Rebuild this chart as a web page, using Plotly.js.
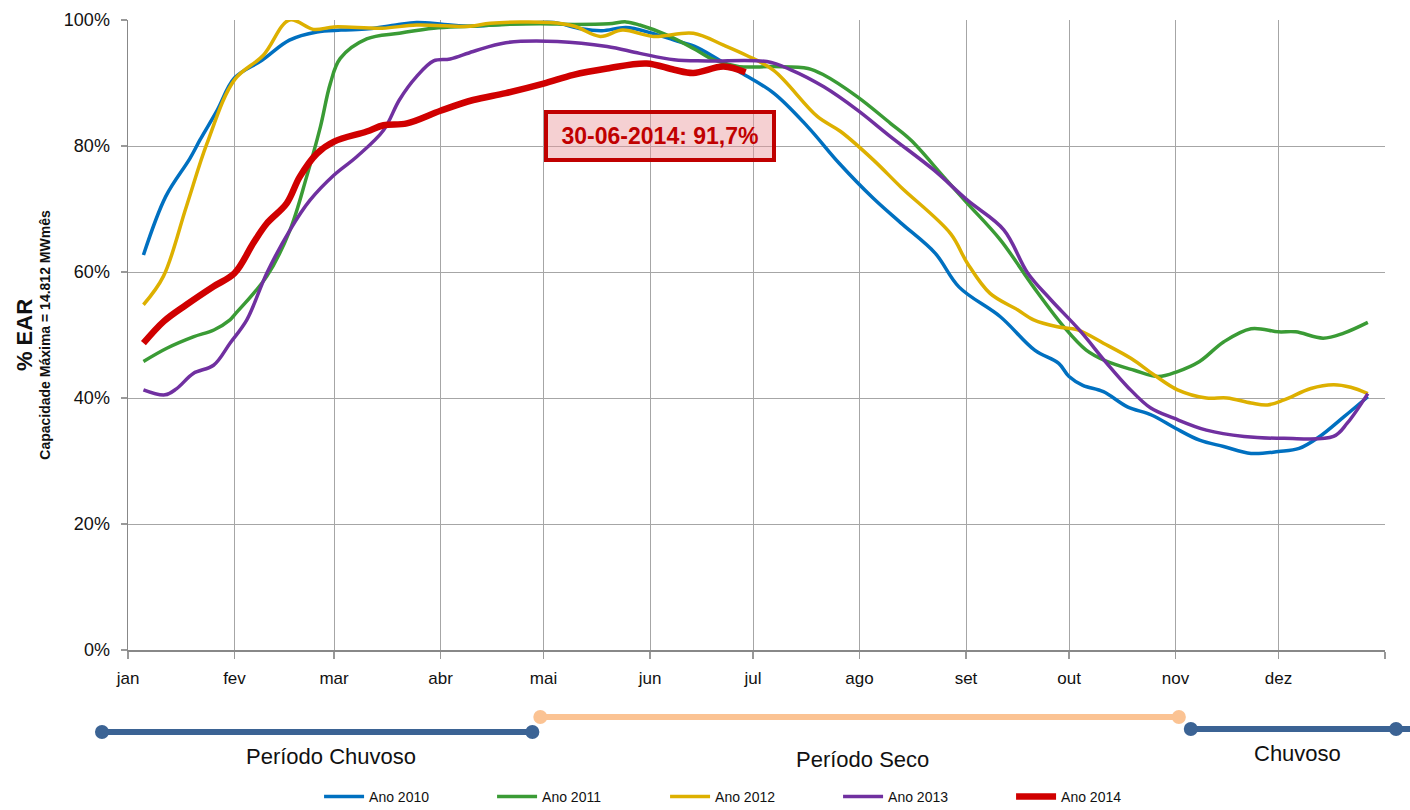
<!DOCTYPE html>
<html>
<head>
<meta charset="utf-8">
<script src="https://cdn.plot.ly/plotly-3.0.1.min.js"></script>
<style>html,body{margin:0;padding:0;background:#fff}#chart{width:1410px;height:810px}</style>
</head>
<body>
<div id="chart"></div>
<script>
// Day-of-year (leap year basis, 0 = 1 Jan) and % EAR values
const monthTickDays = [0, 31, 60, 91, 121, 152, 182, 213, 244, 274, 305, 335, 366];
const monthTickText = ['jan', 'fev', 'mar', 'abr', 'mai', 'jun', 'jul', 'ago', 'set', 'out', 'nov', 'dez', ''];
const yTickVals = [0, 20, 40, 60, 80, 100];
const yTickText = ['0%', '20%', '40%', '60%', '80%', '100%'];

const days2010 = [4.5, 11, 18, 21, 26, 31, 39, 47, 55, 62, 70, 78, 84, 92, 100, 108, 116, 124, 132, 138, 145, 152, 159, 165, 172, 178, 188, 198, 207, 217, 225, 235, 242, 254, 264, 271, 274, 278, 284, 291, 298, 305, 312, 319, 327, 335, 341, 347, 354, 361];
const ear2010 = [62.7, 72, 78, 81, 85.7, 90.8, 93.6, 96.8, 98.1, 98.4, 98.6, 99.2, 99.6, 99.3, 99, 99.3, 99.5, 99.6, 98.6, 98.3, 98.8, 98, 96.8, 95.8, 93.7, 91.8, 88.4, 83, 77.3, 71.7, 67.8, 63, 57.6, 52.9, 47.6, 45.5, 43.4, 42, 41, 38.6, 37.3, 35.2, 33.3, 32.3, 31.2, 31.5, 32, 33.9, 37, 40.2];

const days2011 = [4.5, 11.3, 19, 25, 29.7, 31, 40.4, 47.2, 52, 56, 58.9, 61.8, 69.5, 79, 89, 99.6, 110, 120, 130, 140, 145, 149, 157, 164.6, 170.5, 178, 188, 198, 202.5, 212.4, 222, 228, 237.5, 244.4, 254, 263.7, 272.5, 279, 285, 293, 300, 305.6, 312, 319, 327, 335, 340, 348, 354, 361];
const ear2011 = [45.8, 47.9, 49.7, 50.8, 52.4, 53.2, 59.3, 66.7, 75.1, 83, 89.9, 93.9, 97, 97.9, 98.7, 99, 99.3, 99.4, 99.3, 99.4, 99.7, 99.2, 97.6, 95.5, 93.7, 92.6, 92.6, 92.3, 91.3, 87.8, 83.6, 80.9, 75.1, 70.9, 65.1, 57.6, 51.3, 47.6, 45.8, 44.4, 43.4, 44.2, 45.8, 48.9, 51, 50.5, 50.5, 49.5, 50.3, 52];

const days2012 = [4.5, 10.3, 17, 23, 31, 39.4, 47, 54, 60, 74, 84, 99.6, 105.5, 123, 130, 137.5, 144, 153, 164.6, 173.4, 180, 188, 200.7, 207.5, 217, 225, 239.5, 244.4, 251, 259, 263.7, 270.6, 276.5, 284, 292, 298.7, 305.6, 314, 320, 327, 331.8, 336.6, 344.4, 351, 356, 361];
const ear2012 = [54.8, 59.3, 70.4, 80.4, 90.5, 94.4, 100, 98.5, 98.9, 98.7, 99.2, 99, 99.5, 99.6, 99, 97.4, 98.4, 97.4, 97.9, 96, 94.4, 92, 84.7, 82.3, 77.8, 73.5, 66.1, 61.4, 56.6, 54, 52.4, 51.3, 50.8, 48.7, 46.3, 43.7, 41.3, 40, 40, 39.2, 38.9, 39.7, 41.5, 42.1, 41.7, 40.7];

const days2013 = [4.5, 10.8, 14.2, 19, 24.9, 29.7, 34.6, 40.4, 47.2, 53, 60, 66.6, 74.4, 79, 84, 89, 93.8, 100.5, 110, 125, 139.5, 149, 159, 168.6, 186, 193, 202.6, 212.4, 222, 234.6, 244.4, 255, 262, 268.7, 277, 285, 291, 297.8, 304.5, 314, 325, 336.6, 351, 355, 361];
const ear2013 = [41.3, 40.5, 41.5, 43.9, 45.2, 48.7, 52.4, 59.8, 66.7, 71.4, 75.4, 78.3, 82.5, 87.3, 91, 93.5, 93.8, 95, 96.4, 96.6, 95.8, 94.7, 93.7, 93.5, 93.4, 92.1, 89.4, 85.7, 81.5, 76.2, 71.4, 66.7, 59.8, 55.6, 50.8, 45.5, 41.8, 38.4, 36.8, 34.9, 33.9, 33.6, 33.9, 36, 40.7];

const days2014 = [4.5, 10.5, 17, 24.9, 31, 36.5, 40.4, 46.2, 50, 55, 60, 69.5, 74.4, 81.2, 91, 100.5, 110, 121, 129.7, 139.5, 151, 159, 164.6, 173.4, 179.8];
const ear2014 = [48.7, 52.2, 54.8, 57.7, 59.8, 64.6, 67.7, 70.9, 75.1, 78.8, 80.7, 82.3, 83.3, 83.6, 85.6, 87.3, 88.4, 89.9, 91.3, 92.3, 93.1, 92.1, 91.6, 92.6, 91.7];

const seriesNames = ['Ano 2010', 'Ano 2011', 'Ano 2012', 'Ano 2013', 'Ano 2014'];
const seriesDays = [days2010, days2011, days2012, days2013, days2014];
const seriesVals = [ear2010, ear2011, ear2012, ear2013, ear2014];
const seriesColors = ['#0070c0', '#3a9b35', '#ddb000', '#7030a0', '#d00000'];
const seriesWidths = [3.5, 3.5, 3.5, 3.5, 6.5];

const calloutText = '30-06-2014: 91,7%';
const periodLabels = ['Período Chuvoso', 'Período Seco', 'Chuvoso'];

const FONT = '"Liberation Sans Narrow", "Arial Narrow", "Liberation Sans", Arial, sans-serif';

const traces = seriesNames.map((n, i) => ({
  type: 'scatter', mode: 'lines', name: n,
  x: seriesDays[i], y: seriesVals[i],
  line: {color: seriesColors[i], width: seriesWidths[i], shape: 'spline', smoothing: 1},
  hoverinfo: 'x+y'
}));

const darkBlue = '#3b6394';
const peach = '#fbc393';
function bar(x0, x1, y, color) {
  return {type: 'line', xref: 'paper', yref: 'paper', x0: x0, x1: x1, y0: y, y1: y,
          line: {color: color, width: 6}};
}
function dot(x, y, color) {
  return {type: 'circle', xref: 'paper', yref: 'paper', xsizemode: 'pixel', ysizemode: 'pixel',
          xanchor: x, yanchor: y, x0: -7, x1: 7, y0: -7, y1: 7,
          fillcolor: color, line: {width: 0}};
}

const shapes = [
  bar(-0.0207, 0.3217, -0.1302, darkBlue), dot(-0.0207, -0.1302, darkBlue), dot(0.3217, -0.1302, darkBlue),
  bar(0.328, 0.836, -0.1063, peach), dot(0.328, -0.1063, peach), dot(0.836, -0.1063, peach),
  bar(0.8455, 1.02, -0.1254, darkBlue), dot(0.8455, -0.1254, darkBlue), dot(1.0088, -0.1254, darkBlue)
];

function periodLabel(text, x, y) {
  return {xref: 'paper', yref: 'paper', x: x, y: y, xanchor: 'center', yanchor: 'middle',
          text: text, showarrow: false, font: {family: FONT, size: 22, color: '#111'}};
}

const annotations = [
  {xref: 'x', yref: 'y', x: 155, y: 81.6, text: '<b>' + calloutText + '</b>', showarrow: false,
   font: {family: FONT, size: 23, color: '#c00000'}, bgcolor: 'rgba(232,150,156,0.45)',
   bordercolor: '#c00000', borderwidth: 4, borderpad: 2, width: 220, height: 40},
  periodLabel(periodLabels[0], 0.1616, -0.1698),
  periodLabel(periodLabels[1], 0.5844, -0.1746),
  periodLabel(periodLabels[2], 0.9307, -0.1635)
];

const layout = {
  width: 1410, height: 810,
  margin: {l: 128, r: 25, t: 20, b: 160, autoexpand: false},
  paper_bgcolor: '#fff', plot_bgcolor: '#fff',
  font: {family: FONT, color: '#111'},
  showlegend: true,
  legend: {orientation: 'h', x: 0.152, xanchor: 'left', y: -0.233, yanchor: 'middle',
           font: {family: FONT, size: 14, color: '#111'}, entrywidth: 118, entrywidthmode: 'pixels',
           itemwidth: 40, tracegroupgap: 0, bgcolor: 'rgba(0,0,0,0)'},
  xaxis: {range: [0, 366], tickmode: 'array', tickvals: monthTickDays, ticktext: monthTickText,
          showgrid: true, gridcolor: '#a6a6a6', gridwidth: 1, zeroline: false,
          showline: true, linecolor: '#888', linewidth: 1.5,
          ticks: 'outside', ticklen: 7, tickcolor: '#999', tickwidth: 1.5, ticklabelstandoff: 5,
          tickfont: {family: FONT, size: 17, color: '#111'}, fixedrange: true},
  yaxis: {range: [0, 100], tickmode: 'array', tickvals: yTickVals, ticktext: yTickText,
          showgrid: true, gridcolor: '#a6a6a6', gridwidth: 1, zeroline: false,
          showline: true, linecolor: '#888', linewidth: 1.5,
          ticks: 'outside', ticklen: 6, tickcolor: '#999', tickwidth: 1.5, ticklabelstandoff: 7,
          tickfont: {family: FONT, size: 18, color: '#111'},
          title: {text: '<span style="font-size:22px">% EAR</span><br>Capacidade Máxima = 14.812 MWmês',
                  font: {family: FONT, size: 14, color: '#111', weight: 'bold'}, standoff: 10},
          fixedrange: true},
  shapes: shapes,
  annotations: annotations
};

Plotly.newPlot('chart', traces, layout, {displayModeBar: false, staticPlot: true});
</script>
</body>
</html>
